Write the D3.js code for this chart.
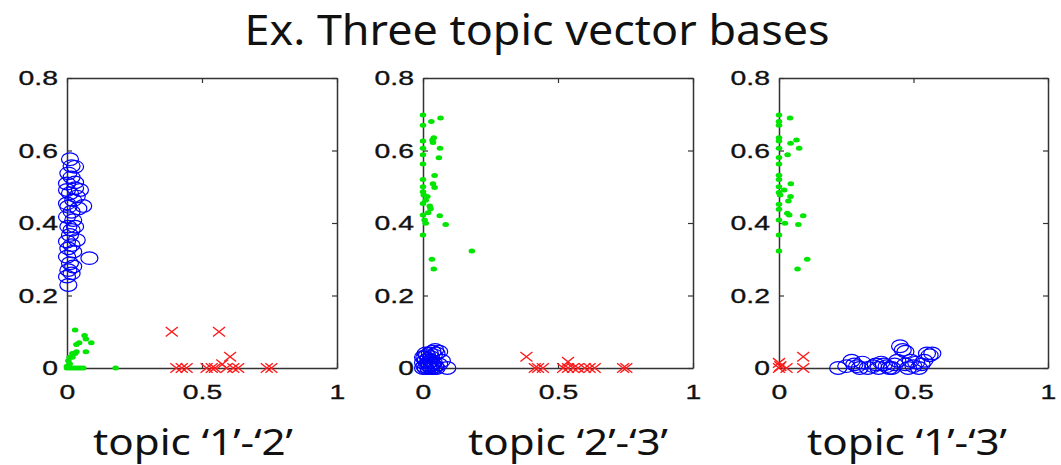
<!DOCTYPE html>
<html><head><meta charset="utf-8">
<script src="https://cdn.jsdelivr.net/npm/d3@7"></script>
<style>
html,body{margin:0;padding:0;background:#fff;}
svg{display:block;}
</style></head>
<body>
<svg id="c" width="1061" height="465"></svg>
<script>
// ---- data ----
const titleText = "Ex. Three topic vector bases";
const panelLabels = ["topic \u20181\u2019-\u20182\u2019", "topic \u20182\u2019-\u20183\u2019", "topic \u20181\u2019-\u20183\u2019"];
const xTicks = [0, 0.5, 1];
const yTicks = [0, 0.2, 0.4, 0.6, 0.8];

// panel 1: topic 1 vs 2
const p12Circles = [[0.011,0.576],[0.017,0.557],[0.03,0.555],[0.005,0.537],[0.017,0.526],[0.03,0.512],[0,0.509],
 [0.03,0.496],[0,0.491],[0.048,0.491],[0.011,0.482],[0.036,0.473],[0.023,0.463],[0,0.454],[0.06,0.447],[0.005,0.445],
 [0.042,0.44],[0.017,0.431],[0,0.417],[0.023,0.408],[0.005,0.39],[0.03,0.39],[0.017,0.381],[0.011,0.367],[0.036,0.353],
 [0,0.349],[0.017,0.339],[0.005,0.33],[0.023,0.321],[0,0.307],[0.083,0.303],[0.011,0.289],[0.023,0.28],[0.005,0.27],
 [0.017,0.261],[0,0.252],[0.005,0.229]];
const p12Dots = [[0.03,0.105],[0.065,0.09],[0.07,0.08],[0.045,0.07],[0.035,0.065],[0.09,0.07],[0.02,0.04],[0.03,0.04],
 [0.035,0.045],[0.07,0.045],[0.01,0.03],[0.02,0.03],[0.005,0.02],[0.01,0.012],[0,0.005],[0,0],[0.01,0],[0.02,0],
 [0.03,0],[0.04,0],[0.05,0],[0.06,0],[0.18,0]];
const p12Crosses = [[0.388,0.1],[0.563,0.1],[0.604,0.031],[0.575,0.01],[0.405,0],[0.425,0],[0.443,0],[0.517,0],
 [0.536,0],[0.548,0],[0.591,0],[0.616,0],[0.634,0],[0.74,0],[0.757,0]];

// panel 2: topic 2 vs 3
const p23Circles = [[0,0],[0.005,0.005],[0.01,0],[0.015,0.01],[0.02,0],[0.025,0.005],[0.03,0],[0.035,0.01],[0.04,0],
 [0.045,0.005],[0.05,0],[0.09,0],[0,0.015],[0.01,0.02],[0.02,0.025],[0.03,0.03],[0.04,0.035],[0.05,0.04],[0.06,0.045],
 [0.07,0.02],[0.06,0.01],[0.005,0.03],[0.015,0.035],[0.025,0.04],[0.035,0.045],[0.045,0.05],[0.02,0.015],[0.03,0.02],
 [0.04,0.015],[0,0.03],[0.01,0.04]];
const p23Dots = [[0,0.698],[0.065,0.69],[0,0.67],[0.031,0.68],[0.04,0.635],[0.035,0.629],[0.037,0.622],[0,0.626],
 [0,0.606],[0.063,0.606],[0,0.588],[0.059,0.58],[0,0.563],[0.043,0.531],[0,0.52],[0.037,0.508],[0.043,0.498],[0,0.5],
 [0,0.486],[0.003,0.477],[0.016,0.473],[0.01,0.463],[0,0.454],[0.025,0.447],[0.028,0.439],[0.019,0.428],[0,0.422],
 [0.062,0.42],[0.006,0.408],[0.01,0.399],[0.084,0.396],[0,0.367],[0.181,0.323],[0.033,0.3],[0.04,0.273]];
const p23Crosses = [[0.383,0.031],[0.537,0.017],[0.414,0],[0.426,0],[0.444,0],[0.519,0],[0.537,0],[0.556,0],
 [0.574,0],[0.599,0],[0.617,0],[0.636,0],[0.741,0],[0.753,0]];

// panel 3: topic 1 vs 3
const p13Circles = [[0.22,0],[0.25,0.005],[0.27,0.02],[0.28,0.01],[0.29,0.005],[0.3,0],[0.31,0.015],[0.33,0],
 [0.35,0.005],[0.36,0.01],[0.37,0],[0.38,0.015],[0.39,0.01],[0.4,0.005],[0.41,0],[0.42,0],[0.43,0.01],[0.44,0.02],
 [0.45,0.06],[0.46,0.05],[0.47,0.045],[0.47,0.01],[0.48,0],[0.49,0.02],[0.5,0.005],[0.51,0.015],[0.52,0],[0.53,0.01],
 [0.54,0.02],[0.55,0.04],[0.56,0.035],[0.57,0.04]];
const p13Dots = [[0,0.698],[0.041,0.69],[0,0.68],[0,0.67],[0,0.635],[0,0.626],[0.065,0.629],[0.043,0.62],[0.075,0.606],
 [0,0.606],[0.032,0.588],[0,0.581],[0,0.563],[0,0.532],[0,0.52],[0.044,0.508],[0,0.5],[0.019,0.491],[0,0.484],
 [0.004,0.477],[0.043,0.473],[0.035,0.461],[0,0.452],[0,0.438],[0.031,0.427],[0.038,0.422],[0.09,0.42],[0,0.408],
 [0.022,0.399],[0.072,0.396],[0,0.367],[0,0.323],[0.105,0.3],[0.069,0.273]];
const p13Crosses = [[0,0.014],[0,0],[0.005,0.005],[0.028,0],[0.09,0.031],[0.09,0]];

// ---- layout ----
const panels = [
  {left:67, right:337, label:panelLabels[0], lx:193, circles:p12Circles, dots:p12Dots, crosses:p12Crosses},
  {left:423, right:693, label:panelLabels[1], lx:568, circles:p23Circles, dots:p23Dots, crosses:p23Crosses},
  {left:779, right:1048, label:panelLabels[2], lx:907, circles:p13Circles, dots:p13Dots, crosses:p13Crosses}
];
const plotTop = 78, plotBottom = 368;
const sx = 1.35;       // horizontal stretch of the original image
const blue = "#0000ff", green = "#00e600", red = "#ff1a1a", axisCol = "#333";

const svg = d3.select("#c");

svg.append("text").attr("x", 537).attr("y", 45).attr("text-anchor","middle")
  .attr("font-family","'Noto Sans',sans-serif").attr("font-size", 42)
  .attr("textLength", 585).attr("lengthAdjust","spacingAndGlyphs")
  .attr("fill","#111").text(titleText);

panels.forEach(p => {
  const x = d3.scaleLinear().domain([0,1]).range([p.left, p.right]);
  const y = d3.scaleLinear().domain([0,0.8]).range([plotBottom, plotTop]);
  const g = svg.append("g");

  const styleAxis = sel => {
    sel.selectAll("path.domain").attr("stroke", axisCol).attr("stroke-width", 1.5);
    sel.selectAll(".tick line").attr("stroke", axisCol).attr("stroke-width", 1.2);
    sel.selectAll("text").attr("font-family","'Liberation Sans',Arial,sans-serif")
       .attr("font-size", 21).attr("fill","#111").attr("stroke","#111").attr("stroke-width",0.35);
  };

  const ga = g.append("g").attr("transform", `translate(${p.left},0)`)
    .call(d3.axisLeft(y).tickValues(yTicks).tickSizeInner(-5).tickSizeOuter(0).tickPadding(9).tickFormat(d => String(d)));
  styleAxis(ga);
  ga.selectAll("text").attr("x", -9 / sx).attr("transform", `scale(${sx},1)`);

  const gr = g.append("g").attr("transform", `translate(${p.right},0)`)
    .call(d3.axisRight(y).tickValues(yTicks).tickSizeInner(-5).tickSizeOuter(0).tickFormat(""));
  styleAxis(gr);

  const gb = g.append("g").attr("transform", `translate(0,${plotBottom})`)
    .call(d3.axisBottom(x).tickValues(xTicks).tickSizeInner(-5).tickSizeOuter(0).tickPadding(16).tickFormat(d => String(d)));
  styleAxis(gb);
  gb.selectAll("text").attr("transform", `scale(${sx},1)`);

  const gt = g.append("g").attr("transform", `translate(0,${plotTop})`)
    .call(d3.axisTop(x).tickValues(xTicks).tickSizeInner(-5).tickSizeOuter(0).tickFormat(""));
  styleAxis(gt);

  // circles
  g.append("g").selectAll("ellipse").data(p.circles).join("ellipse")
    .attr("cx", d => x(d[0])).attr("cy", d => y(d[1]))
    .attr("rx", 8.5).attr("ry", 6.3)
    .attr("fill","none").attr("stroke", blue).attr("stroke-width", 1.2);

  // dots
  g.append("g").selectAll("ellipse").data(p.dots).join("ellipse")
    .attr("cx", d => x(d[0])).attr("cy", d => y(d[1]))
    .attr("rx", 3.3).attr("ry", 2.5).attr("fill", green);

  // crosses
  const hw = 6, hh = 4.8;
  g.append("g").selectAll("path").data(p.crosses).join("path")
    .attr("d", d => {
      const cx = x(d[0]), cy = y(d[1]);
      return `M${cx-hw},${cy-hh}L${cx+hw},${cy+hh}M${cx-hw},${cy+hh}L${cx+hw},${cy-hh}`;
    })
    .attr("stroke", red).attr("stroke-width", 1.4).attr("fill","none");

  svg.append("text").attr("x", p.lx).attr("y", 455).attr("text-anchor","middle")
    .attr("font-family","'Noto Sans',sans-serif").attr("font-size", 36)
    .attr("textLength", 200).attr("lengthAdjust","spacingAndGlyphs")
    .attr("fill","#111").text(p.label);
});
</script>
</body></html>
